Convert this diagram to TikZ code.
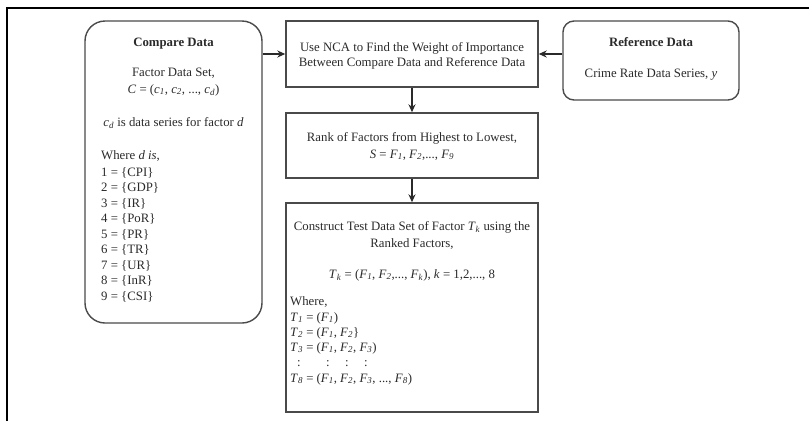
\documentclass[tikz,border=0pt]{standalone}
\usepackage{fontspec}
\setmainfont{Liberation Serif}
\usetikzlibrary{arrows.meta}
\newcommand\vsub[2]{\textit{#1}\textsubscript{\textit{#2}}}
\definecolor{ink}{HTML}{2A2A2A}
\definecolor{edge}{HTML}{4A4A4A}
\begin{document}
\begin{tikzpicture}[x=1pt,y=-1pt,
  box/.style={draw=edge,line width=1.4pt,inner sep=0pt},
  rbox/.style={box,rounded corners=#1},
  txt/.style={text=ink,font=\fontsize{12.8}{15}\selectfont,inner sep=0pt,anchor=base},
  ltxt/.style={txt,anchor=base west},
  conn/.style={draw=ink,line width=1.4pt,-{Stealth[length=8pt,width=7pt]}}]
\useasboundingbox (0,0) rectangle (809,421);
\draw[line width=1.8pt,black] (7,421) -- (7,8) -- (809,8);
% boxes
\node[rbox=20pt,minimum width=177pt,minimum height=302pt] (cmp) at (173.5,172) {};
\node[box,minimum width=252pt,minimum height=66pt] (nca) at (412,54) {};
\node[box,minimum width=252pt,minimum height=65pt] (rank) at (412,145.5) {};
\node[box,minimum width=252pt,minimum height=209pt] (cons) at (412,307.5) {};
\node[rbox=11pt,minimum width=176pt,minimum height=79pt] (ref) at (651,60.5) {};
% connectors
\draw[conn] (nca.west -| cmp.east) -- (nca.west);
\draw[conn] (nca.east -| ref.west) -- (nca.east);
\draw[conn] (nca.south) -- (rank.north);
\draw[conn] (rank.south) -- (cons.north);
% compare data text
\node[txt,font=\fontsize{12.8}{15}\selectfont\bfseries] (c1) at (173.5,46) {Compare Data};
\node[txt] (c2) at (173.5,76) {Factor Data Set,};
\node[txt] (c3) at (173.5,93) {\textit{C} = (\vsub{c}{1}, \vsub{c}{2}, ..., \vsub{c}{d})};
\node[txt] (c4) at (173.5,126) {\vsub{c}{d} is data series for factor \textit{d}};
\node[ltxt] (c5) at (101,159) {Where \textit{d is},};
\node[ltxt] (c6) at (101,176) {1 = \{CPI\}};
\node[ltxt] (c7) at (101,191) {2 = \{GDP\}};
\node[ltxt] (c8) at (101,207) {3 = \{IR\}};
\node[ltxt] (c9) at (101,222) {4 = \{PoR\}};
\node[ltxt] (c10) at (101,238) {5 = \{PR\}};
\node[ltxt] (c11) at (101,253) {6 = \{TR\}};
\node[ltxt] (c12) at (101,269) {7 = \{UR\}};
\node[ltxt] (c13) at (101,284) {8 = \{InR\}};
\node[ltxt] (c14) at (101,300) {9 = \{CSI\}};
% NCA
\node[txt] (n1) at (412,51) {Use NCA to Find the Weight of Importance};
\node[txt] (n2) at (412,66) {Between Compare Data and Reference Data};
% rank
\node[txt] (r1) at (412,141) {Rank of Factors from Highest to Lowest,};
\node[txt] (r2) at (412,158) {\textit{S} = \vsub{F}{1}, \vsub{F}{2},..., \vsub{F}{9}};
% construct
\node[txt] (k1) at (412,230) {Construct Test Data Set of Factor \vsub{T}{k} using the};
\node[txt] (k2) at (412,247) {Ranked Factors,};
\node[txt] (k3) at (412,278) {\vsub{T}{k} = (\vsub{F}{1}, \vsub{F}{2},..., \vsub{F}{k}), \textit{k} = 1,2,..., 8};
\node[ltxt] (k4) at (290,305) {Where,};
\node[ltxt] (k5) at (290,321) {\vsub{T}{1} = (\vsub{F}{1})};
\node[ltxt] (k6) at (290,336) {\vsub{T}{2} = (\vsub{F}{1}, \vsub{F}{2}\}};
\node[ltxt] (k7) at (290,351) {\vsub{T}{3} = (\vsub{F}{1}, \vsub{F}{2}, \vsub{F}{3})};
\node[txt] (k8a) at (299,366) {:};
\node[txt] (k8b) at (328,366) {:};
\node[txt] (k8c) at (347,366) {:};
\node[txt] (k8d) at (366,366) {:};
\node[ltxt] (k9) at (290,382) {\vsub{T}{8} = (\vsub{F}{1}, \vsub{F}{2}, \vsub{F}{3}, ..., \vsub{F}{8})};
% reference
\node[txt,font=\fontsize{12.8}{15}\selectfont\bfseries] (f1) at (651,46) {Reference Data};
\node[txt] (f2) at (651,77) {Crime Rate Data Series, \textit{y}};
\end{tikzpicture}
\end{document}
